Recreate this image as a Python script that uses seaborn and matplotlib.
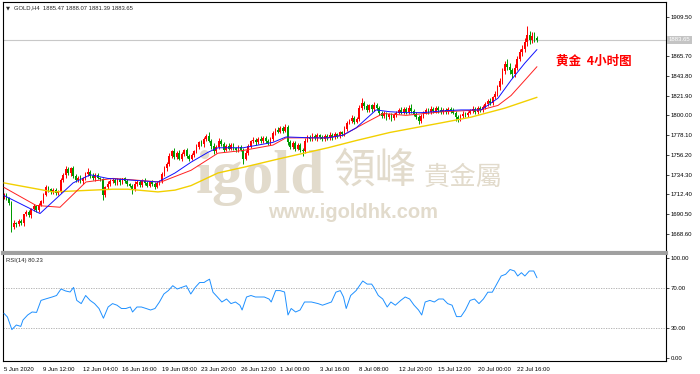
import numpy as np
import pandas as pd
import matplotlib
matplotlib.use("Agg")
import matplotlib.pyplot as plt
import matplotlib.transforms as mtransforms
import seaborn as sns

# ---------------- data ----------------
first_open = 1709.0
close = [
    1712, 1708, 1703, 1676, 1681, 1679, 1683, 1680, 1690, 1693,
    1689, 1696, 1699, 1695, 1701, 1705, 1712, 1720, 1718, 1715,
    1717, 1714, 1716, 1728, 1734, 1740, 1736, 1741, 1733, 1728,
    1731, 1727, 1730, 1735, 1737, 1733, 1730, 1734, 1731, 1729,
    1712, 1720, 1724, 1727, 1728, 1725, 1729, 1726, 1730, 1727,
    1724, 1722, 1718, 1724, 1726, 1723, 1727, 1725, 1722, 1726,
    1724, 1721, 1725, 1727, 1735, 1741, 1746, 1755, 1760, 1754,
    1758, 1752, 1757, 1761, 1755, 1752, 1756, 1760, 1765, 1770,
    1768, 1774, 1777, 1772, 1766, 1760, 1765, 1772, 1768, 1762,
    1766, 1763, 1767, 1764, 1761, 1765, 1762, 1752, 1758, 1766,
    1771, 1773, 1770, 1774, 1771, 1775, 1772, 1769, 1774, 1780,
    1784, 1782, 1786, 1783, 1787, 1770, 1765, 1769, 1763, 1767,
    1762, 1760, 1772, 1776, 1774, 1777, 1775, 1778, 1776, 1774,
    1777, 1775, 1778, 1776, 1779, 1777, 1781, 1779, 1785, 1792,
    1794, 1797, 1793, 1796, 1808, 1814, 1810, 1806, 1811, 1807,
    1812, 1808, 1803, 1799, 1802, 1798, 1801, 1797, 1800, 1803,
    1806, 1803, 1807, 1804, 1808, 1805, 1802, 1798, 1794, 1799,
    1803, 1806, 1804, 1807, 1805, 1808, 1806, 1804, 1806, 1804,
    1807, 1805, 1803, 1798, 1796, 1799, 1802, 1800, 1803, 1805,
    1807, 1804, 1808, 1806, 1809, 1813, 1816, 1814, 1820, 1824,
    1831, 1838, 1849, 1857, 1854, 1850, 1846, 1853, 1863, 1870,
    1874, 1881, 1889, 1884, 1888, 1885.47, 1883.65,
]
upper_wick = [
    2, 2, 1, 2, 3, 1, 2, 2, 1, 2,
    2, 1, 3, 2, 2, 1, 2, 3, 2, 1,
    2, 2, 1, 2, 2, 4, 3, 2, 3, 2,
    2, 3, 2, 2, 5, 2, 3, 2, 2, 1,
    2, 2, 3, 2, 2, 3, 2, 2, 1, 2,
    2, 1, 2, 3, 2, 2, 2, 3, 2, 1,
    2, 2, 2, 1, 2, 3, 2, 3, 2, 4,
    2, 3, 2, 2, 3, 2, 2, 2, 3, 2,
    3, 2, 2, 4, 2, 3, 2, 3, 2, 2,
    2, 3, 2, 2, 1, 2, 2, 2, 3, 2,
    2, 3, 2, 2, 3, 2, 2, 2, 2, 3,
    2, 3, 2, 2, 3, 2, 3, 2, 2, 2,
    2, 2, 3, 2, 2, 3, 2, 2, 1, 2,
    2, 2, 3, 2, 2, 1, 2, 2, 3, 2,
    2, 3, 2, 2, 3, 5, 2, 3, 2, 2,
    3, 2, 2, 2, 3, 2, 2, 2, 3, 2,
    2, 3, 2, 2, 3, 5, 2, 2, 2, 3,
    2, 2, 2, 3, 2, 2, 2, 3, 2, 2,
    2, 2, 3, 2, 2, 2, 3, 2, 2, 2,
    3, 2, 2, 2, 3, 2, 2, 3, 2, 3,
    3, 3, 4, 3, 5, 4, 3, 4, 3, 4,
    4, 5, 10, 5, 4, 4, 2.6,
]
lower_wick = [
    2, 2, 2, 5, 2, 3, 2, 2, 3, 2,
    2, 3, 2, 2, 2, 2, 2, 2, 3, 2,
    2, 2, 2, 2, 2, 3, 2, 3, 2, 2,
    2, 2, 3, 2, 2, 2, 2, 3, 2, 2,
    6, 3, 2, 2, 2, 2, 2, 3, 2, 2,
    2, 2, 5, 2, 2, 2, 3, 2, 2, 2,
    2, 3, 2, 2, 2, 2, 3, 2, 2, 3,
    2, 2, 3, 2, 2, 3, 2, 2, 2, 2,
    2, 3, 2, 2, 3, 3, 2, 2, 2, 3,
    2, 2, 2, 3, 2, 2, 2, 6, 2, 2,
    2, 2, 3, 2, 2, 2, 3, 2, 2, 2,
    2, 2, 2, 3, 2, 3, 2, 2, 3, 2,
    3, 5, 2, 2, 2, 2, 2, 3, 2, 2,
    2, 2, 2, 3, 2, 2, 2, 2, 2, 2,
    2, 2, 3, 2, 2, 2, 3, 2, 2, 3,
    2, 2, 3, 2, 2, 3, 2, 3, 2, 2,
    2, 2, 2, 3, 2, 2, 3, 2, 4, 2,
    2, 2, 3, 2, 2, 2, 3, 2, 2, 2,
    2, 2, 2, 4, 3, 2, 2, 2, 2, 2,
    2, 3, 2, 2, 2, 2, 3, 2, 2, 2,
    2, 3, 3, 3, 4, 4, 5, 3, 3, 3,
    4, 4, 4, 5, 4, 4, 2.26,
]

ma_fast_bar = [0, 14.6, 28, 35, 42, 62.4, 69.3, 75.8, 82.7, 86.7, 96.9, 109, 114.3,
               125.2, 131.3, 137.4, 142.7, 150.8, 156.4, 162.9, 169.8, 177.9, 185.2,
               193.3, 200.2, 205.5, 211.1, 216]
ma_fast = [1711, 1691, 1725, 1734, 1730, 1726, 1736, 1748, 1759, 1764, 1764, 1770, 1776,
           1775, 1775, 1778, 1786, 1806, 1804, 1803, 1803, 1805, 1806,
           1806, 1819, 1839, 1858, 1873]
ma_mid_bar = [0, 13, 22.7, 33.2, 44.2, 63.6, 75.8, 86.7, 96.9, 109, 114.3, 125.2, 131.3,
              137.4, 146.7, 153.6, 162.9, 177.9, 193.3, 200.2, 205.5, 211.1, 216]
ma_mid = [1720, 1700, 1698, 1726, 1730, 1726, 1739, 1758, 1761, 1767, 1775, 1775, 1775,
          1778, 1792, 1802, 1800, 1804, 1806, 1811, 1822, 1839, 1854]
ma_slow_bar = [0, 19.9, 44.2, 50.3, 62.4, 69.3, 75.8, 86.7, 98.1, 111.9, 131.3, 142.7,
               156.4, 177.9, 189.3, 203, 216]
ma_slow = [1725, 1715, 1718, 1718, 1715, 1717, 1722, 1736, 1743, 1752, 1764, 1772,
           1781, 1792, 1798, 1808, 1820]

rsi_bar = [0, 1.4, 3.2, 5, 6.8, 7.7, 9.6, 11.4, 13.2, 15, 16.8, 19.5, 21.3, 23.1, 25, 26.8,
           28.2, 29.5, 31.3, 33.1, 34.9, 36.7, 38.5, 40.3, 42.2, 44, 45.8, 47.6, 49.4,
           51.2, 52.1, 53.9, 55.7, 57.6, 59.4, 61.2, 63, 64.8, 66.6, 68.4, 70.2, 72,
           73.9, 75.7, 77.5, 79.3, 81.1, 82, 83.3, 84.7, 86.5, 88.3, 90.2, 92, 93.8,
           95.6, 96.5, 98.3, 100.1, 101.9, 103.7, 105.5, 107.4, 108.3, 110.1, 111.9,
           113.7, 115.1, 116.4, 118.2, 120, 121.8, 124.6, 127.3, 129.1, 130.9, 132.7,
           134.5, 136.3, 137.6, 138.7, 140.5, 142.7, 145.4, 147.2, 149, 149.9, 151.7,
           153.5, 155.3, 156.8, 158.6, 160.8, 162.6, 164.4, 166.2, 168, 169.3, 170.7,
           172.6, 174.4, 176.2, 178, 179.8, 181.6, 183.4, 185.2, 187, 188.9, 190.7,
           192.5, 194.3, 196.1, 197.9, 199.7, 201.5, 203.3, 205.1, 206.9, 208.2,
           209.7, 211.1, 212.9, 214.7, 216]
rsi_val = [44.6, 41, 28.4, 33, 31.6, 38, 43, 46, 45.6, 57.6, 59, 61, 62.5, 69, 67, 66,
           70.6, 57.6, 54.4, 62.5, 57.6, 54.4, 49.5, 39.8, 51, 54.4, 52.8, 49.5, 49.5,
           51, 46, 51, 51, 49.5, 48, 49.5, 56, 64, 67.4, 72.3, 69, 70.6,
           72.3, 64, 70.6, 75.5, 75.5, 77, 78.8, 65.8, 61, 56, 59, 54.4, 56,
           52.8, 48, 61, 62.5, 61, 61, 61, 59, 56, 67.4, 67.4,
           66, 43, 49.5, 46, 48, 56, 56, 54.4, 52.8, 54.4, 56,
           65.8, 67.4, 61, 49.5, 62.5, 67.4, 77, 73.9, 73.9, 70.6, 62.5,
           59, 51, 56, 52.8, 57.6, 61, 59, 52.8, 48, 43, 56,
           57.6, 56, 59, 59, 54.4, 52.8, 41.4, 41.4, 48, 57.6, 59,
           54.4, 59, 65.8, 65.8, 73.9, 82, 83.7, 88.5, 87, 82,
           85.3, 82, 87, 87, 80.23]

date_ticks = [0, 16, 32, 48, 64, 80, 96, 112, 128, 144, 160, 176, 192, 208]
date_labels = ["5 Jun 2020", "9 Jun 12:00", "12 Jun 04:00", "16 Jun 16:00", "19 Jun 08:00",
               "23 Jun 20:00", "26 Jun 12:00", "1 Jul 00:00", "3 Jul 16:00", "8 Jul 08:00",
               "12 Jul 20:00", "15 Jul 12:00", "20 Jul 00:00", "22 Jul 16:00"]
price_ticks = [1668.60, 1690.50, 1712.40, 1734.30, 1756.20, 1778.10, 1800.00,
               1821.90, 1843.80, 1865.70, 1909.50]
rsi_ticks = [0, 30, 70, 100]
rsi_levels = [30, 70]
last_price = 1883.65
header = "GOLD,H4  1885.47 1888.07 1881.39 1883.65"
rsi_title = "RSI(14) 80.23"
chart_title = "黄金  4小时图"

# ---------------- drawing ----------------
sns.set_style("white")
plt.rcParams["font.family"] = ["Liberation Sans", "DejaVu Sans"]

W, H = 700, 374
fig = plt.figure(figsize=(W / 100, H / 100), dpi=100)


def frame(x0, y0, x1, y1):
    return [x0 / W, 1 - y1 / H, (x1 - x0) / W, (y1 - y0) / H]


ax = fig.add_axes(frame(3, 2, 666, 253))
ax2 = fig.add_axes(frame(3, 255, 666, 361))

df = pd.DataFrame({"close": close, "uw": upper_wick, "lw": lower_wick})
df["bar"] = np.arange(len(df))
df["open"] = [first_open] + close[:-1]
df["top"] = df[["open", "close"]].max(axis=1)
df["bot"] = df[["open", "close"]].min(axis=1)
df["high"] = df["top"] + df["uw"]
df["low"] = df["bot"] - df["lw"]
df["up"] = df["close"] >= df["open"]
bull, bear = "#ff0000", "#009a00"
colors = [bull if u else bear for u in df["up"]]

ax.vlines(df["bar"], df["low"], df["high"], colors=colors, lw=0.7, zorder=2)
ax.bar(df["bar"], np.maximum(df["top"] - df["bot"], 0.5), bottom=df["bot"],
       width=0.7, color=colors, linewidth=0, zorder=2.1)

sns.lineplot(x=ma_slow_bar, y=ma_slow, ax=ax, color="#f2d000", lw=1.0, sort=False,
             estimator=None, zorder=3)
sns.lineplot(x=ma_mid_bar, y=ma_mid, ax=ax, color="#ff2020", lw=0.7, sort=False,
             estimator=None, zorder=3)
sns.lineplot(x=ma_fast_bar, y=ma_fast, ax=ax, color="#1010ff", lw=0.7, sort=False,
             estimator=None, zorder=3)

ax.axhline(last_price, color="#c8c8c8", lw=0.8, zorder=1)

x_lo, x_hi = -0.4, 268.3
ax.set_xlim(x_lo, x_hi)
ax.set_ylim(1647.2, 1925.8)
ax.set_xticks([])
ax.yaxis.tick_right()
ax.set_yticks(price_ticks)
ax.set_yticklabels([f"{v:.2f}" for v in price_ticks])
ax.tick_params(axis="y", length=2, width=0.5, pad=1.2, labelsize=4.3, colors="black")
for s in ["left", "top", "right"]:
    ax.spines[s].set_color("black")
    ax.spines[s].set_linewidth(0.8)
ax.spines["bottom"].set_color("#a0a0a0")
ax.spines["bottom"].set_linewidth(3)
ax.set_xlabel("")
ax.set_ylabel("")

# current price box on the scale
trans = mtransforms.blended_transform_factory(ax.transAxes, ax.transData)
ax.text(1.004, last_price, f"{last_price:.2f}", transform=trans, ha="left", va="center",
        fontsize=4.3, color="white", clip_on=False,
        bbox=dict(boxstyle="square,pad=0.25", fc="#c4c4c4", ec="none"))

# header and chart title
ax.text(0.004, 0.985, "▼", transform=ax.transAxes, fontsize=3.8, ha="left", va="top",
        family=["DejaVu Sans"])
ax.text(0.017, 0.986, header, transform=ax.transAxes, fontsize=4.2, ha="left", va="top")
fig.text(556 / W, 1 - 61 / H, chart_title, color="#ff0000", fontsize=9, ha="left",
         va="center", family=["Noto Sans CJK SC", "DejaVu Sans"], fontweight="bold")

# watermark (behind candles)
wm = "#e2dbcc"
ax.text(196 / W, 1 - 193 / H, "igold", transform=fig.transFigure, fontsize=44,
        family=["Liberation Serif"], fontweight="bold", color=wm, ha="left",
        va="baseline", zorder=0.5)
ax.text(334 / W, 1 - 171 / H, "領峰", transform=fig.transFigure, fontsize=30,
        family=["Noto Sans CJK TC"], fontweight="normal", color=wm, ha="left",
        va="center", zorder=0.5)
ax.text(424 / W, 1 - 177 / H, "貴金屬", transform=fig.transFigure, fontsize=19,
        family=["Noto Sans CJK TC"], fontweight="normal", color=wm, ha="left",
        va="center", zorder=0.5)
ax.text(268 / W, 1 - 212 / H, "www.igoldhk.com", transform=fig.transFigure, fontsize=14.5,
        family=["Liberation Sans"], fontweight="bold", color=wm, ha="left",
        va="center", zorder=0.5)

# ---------------- RSI panel ----------------
for lvl in rsi_levels:
    ax2.axhline(lvl, color="#a8a8a8", lw=0.6, ls=(0, (1.5, 1.5)), zorder=1)
sns.lineplot(x=rsi_bar, y=rsi_val, ax=ax2, color="#1e90ff", lw=0.7, sort=False,
             estimator=None, zorder=3)
ax2.set_xlim(x_lo, x_hi)
ax2.set_ylim(-3, 103)
ax2.yaxis.tick_right()
ax2.set_yticks(rsi_ticks)
ax2.set_yticklabels([f"{v:.2f}" for v in rsi_ticks])
ax2.tick_params(axis="y", length=2, width=0.5, pad=1.2, labelsize=4.3, colors="black")
ax2.set_xticks(date_ticks)
ax2.set_xticklabels(date_labels)
ax2.tick_params(axis="x", length=3, width=0.5, pad=1.5, labelsize=4.3, colors="black",
                direction="out")
for lab in ax2.get_xticklabels():
    lab.set_horizontalalignment("left")
for s in ["left", "bottom", "right"]:
    ax2.spines[s].set_color("black")
    ax2.spines[s].set_linewidth(0.8)
ax2.spines["top"].set_visible(False)
ax2.set_xlabel("")
ax2.set_ylabel("")
ax2.text(0.004, 0.97, rsi_title, transform=ax2.transAxes, fontsize=4.2, ha="left",
         va="top")

fig.savefig("out.png", dpi=100)
